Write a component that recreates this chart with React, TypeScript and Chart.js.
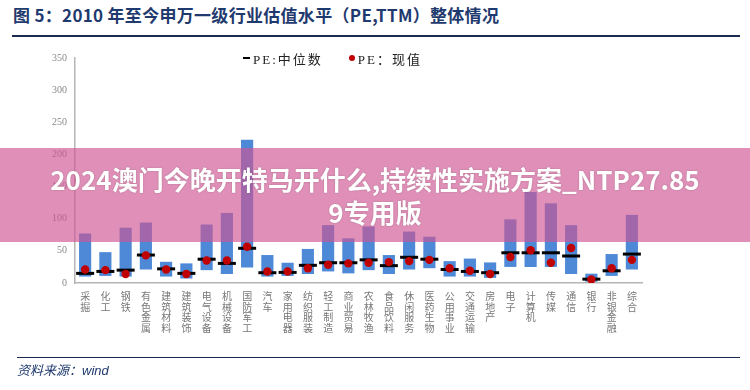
import React, { useEffect, useRef } from 'react';
import { Chart, registerables } from 'chart.js';
Chart.register(...registerables);

const categories = ['采掘', '化工', '钢铁', '有色金属', '建筑材料', '建筑装饰', '电气设备', '机械设备', '国防军工', '汽车', '家用电器', '纺织服装', '轻工制造', '商业贸易', '农林牧渔', '食品饮料', '休闲服务', '医药生物', '公用事业', '交通运输', '房地产', '电子', '计算机', '传媒', '通信', '银行', '非银金融', '综合'];
const lowValues = [10, 11, 10, 21, 10, 7, 20, 14, 24, 10, 11, 14, 18, 15, 20, 14, 21, 23, 10, 10, 8, 25, 25, 25, 14, 2, 11, 21];
const highValues = [77, 48, 86, 94, 33, 30.5, 91, 109, 223, 43.5, 31.5, 53, 90, 69.5, 88, 43.5, 80, 72, 34, 38, 32, 99, 141.5, 124, 90, 14.5, 45, 106];
const medianValues = [15, 18, 20, 43.5, 22, 15, 37, 30.5, 54, 16, 16.5, 27.5, 31.5, 31.5, 36, 27, 40, 37, 21, 18, 16, 47, 47, 47, 42, 6, 19, 45];
const currentValues = [21, 20, 14, 43, 21, 14, 35, 35, 56.5, 18, 18, 23, 28.5, 30.5, 31.5, 32.5, 34, 36, 23, 19, 14, 40.5, 51, 31.5, 54.5, 5.5, 23, 36];
const yTicks = [0, 50, 100, 150, 200, 250, 300, 350];

const titleText = '图 5：2010 年至今申万一级行业估值水平（PE,TTM）整体情况';
const legendMedian = 'PE:中位数';
const legendCurrent = 'PE：现值';
const sourceText = '资料来源：wind';
const bannerLine1 = '2024澳门今晚开特马开什么,持续性实施方案_NTP27.85';
const bannerLine2 = '9专用版';

export default function App() {
  const ref = useRef<HTMLCanvasElement>(null);
  useEffect(() => {
    const chart = new Chart(ref.current!, {
      type: 'bar',
      data: {
        labels: categories.map((c) => c.split('')),
        datasets: [
          {
            type: 'line',
            label: legendCurrent,
            data: currentValues,
            showLine: false,
            pointStyle: 'circle',
            pointRadius: 4.2,
            pointBackgroundColor: '#C00000',
            pointBorderColor: '#C00000',
            pointBorderWidth: 0,
            order: 1,
          } as any,
          {
            type: 'line',
            label: legendMedian,
            data: medianValues,
            showLine: false,
            pointStyle: 'line',
            pointRadius: 9,
            pointBorderColor: '#000000',
            pointBorderWidth: 3,
            order: 2,
          } as any,
          {
            type: 'bar',
            label: 'range',
            data: lowValues.map((l, i) => [l, highValues[i]]),
            backgroundColor: '#4D89D6',
            borderWidth: 0,
            barPercentage: 0.6,
            categoryPercentage: 1,
            order: 3,
          } as any,
        ],
      },
      options: {
        responsive: false,
        animation: false,
        layout: { padding: { top: 58, right: 108, left: 0, bottom: 0 } },
        plugins: { legend: { display: false }, tooltip: { enabled: false } },
        scales: {
          x: {
            grid: { display: false, drawTicks: false },
            border: { display: true, color: '#b5b5b5', width: 1.5 },
            ticks: {
              color: '#777',
              font: { family: '"Noto Sans CJK SC"', size: 10, lineHeight: 1.05 },
              maxRotation: 0,
              minRotation: 0,
              autoSkip: false,
              padding: 8,
            },
            afterFit: (s: any) => { s.height = 107; },
          },
          y: {
            min: 0,
            max: 350,
            afterBuildTicks: (s: any) => { s.ticks = yTicks.map((v) => ({ value: v })); },
            grid: { display: false, drawTicks: false },
            border: { display: true, color: '#b5b5b5', width: 1.5 },
            ticks: {
              color: '#888',
              font: { family: '"Liberation Serif"', size: 10 },
              padding: 8,
            },
            afterFit: (s: any) => { s.width = 75; },
          },
        },
      },
    });
    return () => chart.destroy();
  }, []);

  const navy = '#1F3A6E';
  return (
    <div style={{ position: 'fixed', left: 0, top: 0, width: 750, height: 390, background: '#fff', overflow: 'hidden' }}>
      <div style={{ position: 'absolute', left: 13, top: 4, fontFamily: '"Noto Sans CJK SC"', fontWeight: 700, fontSize: 17, letterSpacing: 0.3, color: navy, whiteSpace: 'nowrap', lineHeight: '22px' }}>{titleText}</div>
      <div style={{ position: 'absolute', left: 12, top: 35, width: 728, height: 2, background: '#1B2A50' }} />
      <canvas ref={ref} width={750} height={390} style={{ position: 'absolute', left: 0, top: 0, width: 750, height: 390 }} />
      <div style={{ position: 'absolute', left: 243, top: 49, height: 18, display: 'flex', alignItems: 'center', fontFamily: '"Liberation Serif", "Noto Sans CJK SC"', fontSize: 13, color: '#222', whiteSpace: 'nowrap' }}>
        <span style={{ display: 'inline-block', width: 7, height: 2, background: '#000', marginRight: 3 }} />
        <span style={{ letterSpacing: 2 }}>{legendMedian}</span>
        <span style={{ display: 'inline-block', width: 6, height: 6, borderRadius: 3, background: '#C00000', marginLeft: 26, marginRight: 3 }} />
        <span style={{ letterSpacing: 2 }}>{legendCurrent}</span>
      </div>
      <div style={{ position: 'absolute', left: 17, top: 357, width: 723, height: 1, background: '#1B2A50' }} />
      <div style={{ position: 'absolute', left: 17, top: 360, fontFamily: '"Liberation Sans", "Noto Sans CJK SC"', fontStyle: 'italic', fontSize: 13, color: navy, whiteSpace: 'nowrap' }}>{sourceText}</div>
      <div style={{ position: 'absolute', left: 0, top: 148, width: 750, height: 94, background: 'rgba(208,85,146,0.65)', display: 'flex', flexDirection: 'column', alignItems: 'center', justifyContent: 'center', color: '#fff', fontFamily: '"Noto Sans CJK SC"', fontWeight: 700, fontSize: 26, lineHeight: '33px', whiteSpace: 'nowrap', textShadow: '0 0 2px rgba(0,0,0,0.25)' }}>
        <div>{bannerLine1}</div>
        <div>{bannerLine2}</div>
      </div>
    </div>
  );
}
